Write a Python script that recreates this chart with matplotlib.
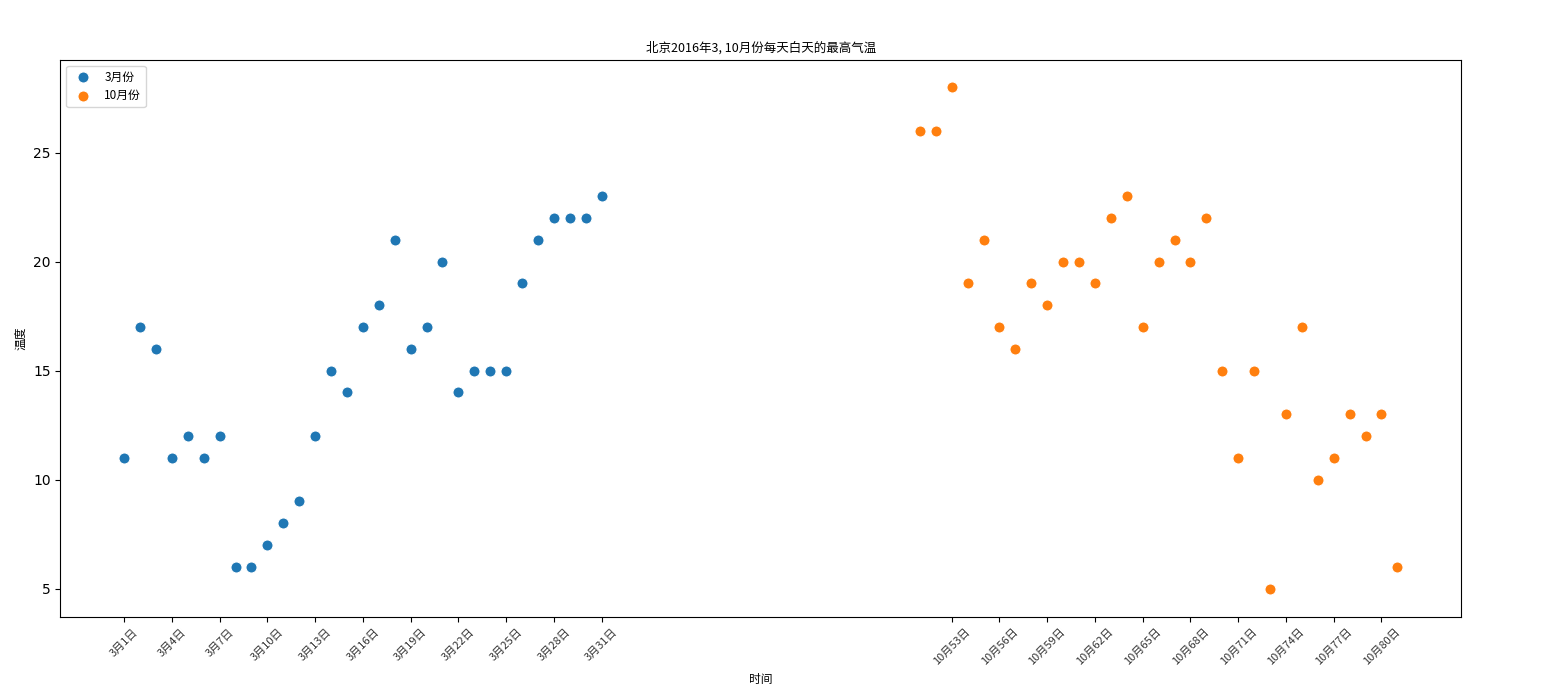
import matplotlib.pyplot as plt

plt.rcParams["font.family"] = ["DejaVu Sans"]
CJK = ["Noto Sans CJK SC", "DejaVu Sans"]

x_3 = list(range(1, 32))
y_3 = [11, 17, 16, 11, 12, 11, 12, 6, 6, 7, 8, 9, 12, 15, 14, 17,
       18, 21, 16, 17, 20, 14, 15, 15, 15, 19, 21, 22, 22, 22, 23]
x_10 = list(range(51, 82))
y_10 = [26, 26, 28, 19, 21, 17, 16, 19, 18, 20, 20, 19, 22, 23, 17, 20,
        21, 20, 22, 15, 11, 15, 5, 13, 17, 10, 11, 13, 12, 13, 6]

ticks_3 = x_3[::3]
ticks_10 = x_10[2::3][:10]
labels_3 = ["3月{}日".format(i) for i in ticks_3]
labels_10 = ["10月{}日".format(i) for i in ticks_10]

fig = plt.figure(figsize=(15.51, 6.96), dpi=100)
ax = fig.add_axes([0.039, 0.1135, 0.903, 0.8005])

ax.scatter(x_3, y_3, s=64, color="#1f77b4", edgecolor="white", linewidth=0.8, label="3月份")
ax.scatter(x_10, y_10, s=64, color="#ff7f0e", edgecolor="white", linewidth=0.8, label="10月份")

ax.set_ylim(3.7, 29.25)
ax.set_xticks(ticks_3 + ticks_10)
ax.set_xticklabels(labels_3 + labels_10, rotation=45, fontsize=8, family=CJK, color="#333333")
ax.tick_params(axis="y", labelsize=10)

ax.set_title("北京2016年3, 10月份每天白天的最高气温", fontsize=9, family=CJK)
ax.set_xlabel("时间", fontsize=8.5, family=CJK)
ax.set_ylabel("温度", fontsize=8.5, family=CJK)
ax.legend(loc="upper left", prop={"family": CJK, "size": 8.5})

fig.savefig("out.png", dpi=100)
